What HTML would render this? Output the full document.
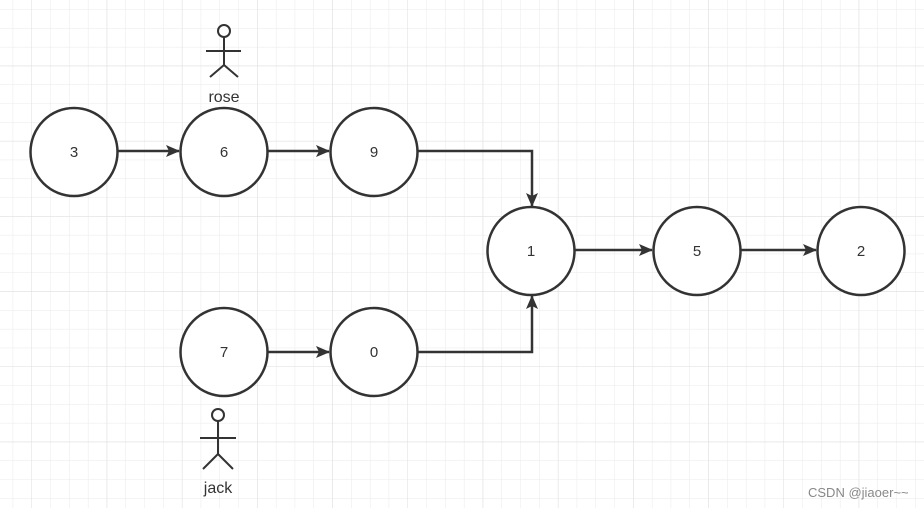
<!DOCTYPE html>
<html><head><meta charset="utf-8"><style>
html,body{margin:0;padding:0;background:#fff;}
svg{display:block;}
text{font-family:"Liberation Sans",sans-serif;}
</style></head><body>
<svg width="924" height="508" viewBox="0 0 924 508" xmlns="http://www.w3.org/2000/svg">
<defs>
<pattern id="g" x="12.7" y="9.3" width="18.8" height="18.8" patternUnits="userSpaceOnUse">
<path d="M0 0V18.8M0 0H18.8" stroke="#eaeaea" stroke-width="1" fill="none"/>
</pattern>
<pattern id="G" x="106.7" y="65.7" width="75.2" height="75.2" patternUnits="userSpaceOnUse">
<path d="M0 0V75.2M0 0H75.2" stroke="#dedede" stroke-width="1" fill="none"/>
</pattern>
<marker id="a" markerWidth="14" markerHeight="12" refX="13" refY="6" orient="auto" markerUnits="userSpaceOnUse">
<path d="M0 0L14 6L0 12L3 6Z" fill="#333"/>
</marker>
</defs>
<rect width="924" height="508" fill="#fff"/>
<rect width="924" height="508" fill="url(#g)"/>
<rect width="924" height="508" fill="url(#G)"/>
<g stroke="#333" stroke-width="2.5" fill="none">
<line x1="118" y1="151" x2="179" y2="151" marker-end="url(#a)"/>
<line x1="268" y1="151" x2="329" y2="151" marker-end="url(#a)"/>
<polyline points="418,151 532,151 532,206" marker-end="url(#a)"/>
<line x1="268" y1="352" x2="329" y2="352" marker-end="url(#a)"/>
<polyline points="418,352 532,352 532,296" marker-end="url(#a)"/>
<line x1="575" y1="250" x2="652" y2="250" marker-end="url(#a)"/>
<line x1="741" y1="250" x2="816" y2="250" marker-end="url(#a)"/>
</g>
<g stroke="#333" stroke-width="2.5" fill="#fff">
<ellipse cx="74" cy="152" rx="43.5" ry="44"/>
<ellipse cx="224" cy="152" rx="43.5" ry="44"/>
<ellipse cx="374" cy="152" rx="43.5" ry="44"/>
<ellipse cx="531" cy="251" rx="43.5" ry="44"/>
<ellipse cx="697" cy="251" rx="43.5" ry="44"/>
<ellipse cx="861" cy="251" rx="43.5" ry="44"/>
<ellipse cx="224" cy="352" rx="43.5" ry="44"/>
<ellipse cx="374" cy="352" rx="43.5" ry="44"/>
</g>
<g font-size="15" fill="#333" text-anchor="middle">
<text x="74" y="157">3</text>
<text x="224" y="157">6</text>
<text x="374" y="157">9</text>
<text x="531" y="256">1</text>
<text x="697" y="256">5</text>
<text x="861" y="256">2</text>
<text x="224" y="357">7</text>
<text x="374" y="357">0</text>
<text x="224" y="102" font-size="16">rose</text>
<text x="218" y="493" font-size="16">jack</text>
</g>
<g stroke="#333" stroke-width="2" fill="none">
<circle cx="224" cy="31" r="6" fill="#fff"/>
<path d="M224 37V65M206 51H241M224 65L210 77M224 65L238 77"/>
<circle cx="218" cy="415" r="6" fill="#fff"/>
<path d="M218 421V454M200 438H236M218 454L203 469M218 454L233 469"/>
</g>
<text x="808" y="497" font-size="13" fill="#888">CSDN @jiaoer~~</text>
</svg>
</body></html>
